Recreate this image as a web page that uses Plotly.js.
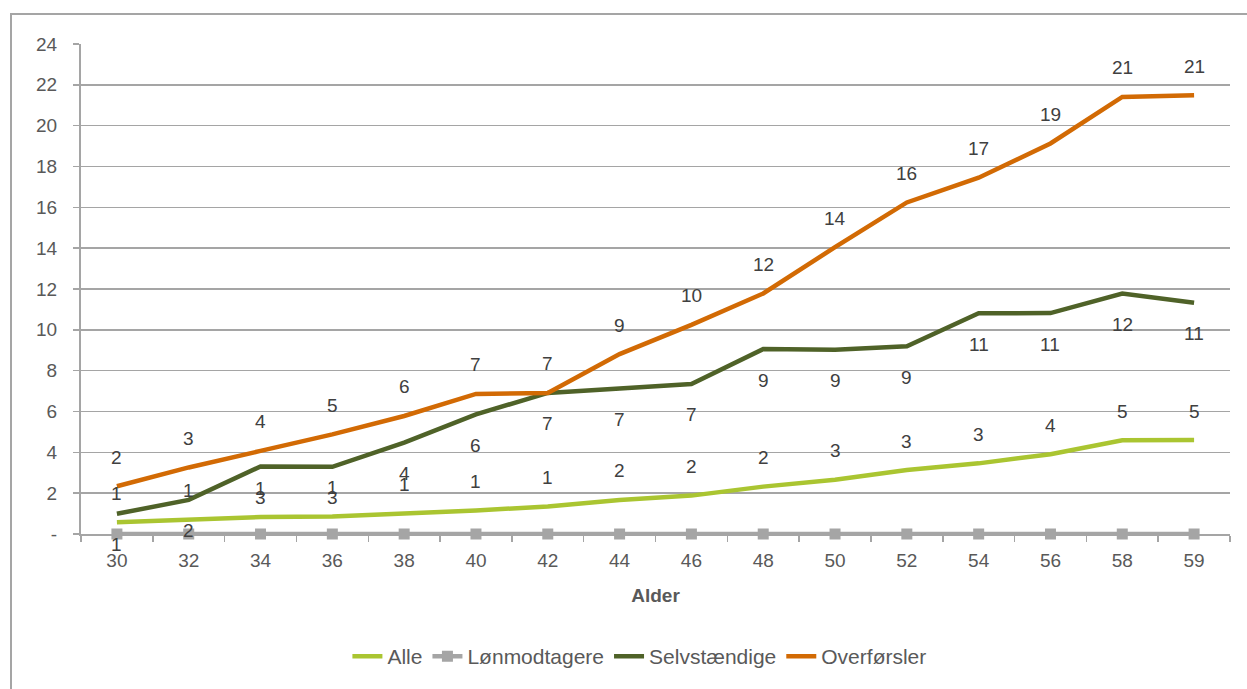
<!DOCTYPE html>
<html>
<head>
<meta charset="utf-8">
<script src="https://cdn.plot.ly/plotly-3.0.1.min.js"></script>
<style>
  html, body { margin: 0; padding: 0; background: #ffffff; }
  #wrap { position: relative; width: 1247px; height: 689px; overflow: hidden; }
  #chart { position: absolute; left: 0; top: 0; width: 1247px; height: 689px; }
  #frame { position: absolute; left: 10px; top: 13px; width: 1300px; height: 800px;
           border: 2px solid #a5a5a5; pointer-events: none; box-sizing: border-box; }
</style>
</head>
<body>
<div id="wrap">
  <div id="chart"></div>
  <div id="frame"></div>
</div>
<script>
// Categories (age)
const ages = ["30","32","34","36","38","40","42","44","46","48","50","52","54","56","58","59"];

// Series values
const alle          = [0.58, 0.70, 0.83, 0.86, 0.99, 1.15, 1.35, 1.67, 1.88, 2.32, 2.66, 3.13, 3.46, 3.91, 4.59, 4.60];
const loenmodtagere = [0, 0, 0, 0, 0, 0, 0, 0, 0, 0, 0, 0, 0, 0, 0, 0];
const selvstaendige = [0.99, 1.67, 3.31, 3.29, 4.48, 5.86, 6.91, 7.11, 7.35, 9.06, 9.02, 9.19, 10.81, 10.82, 11.78, 11.33];
const overfoersler  = [2.34, 3.26, 4.07, 4.88, 5.78, 6.86, 6.91, 8.81, 10.24, 11.78, 14.05, 16.24, 17.45, 19.13, 21.41, 21.49];

// Y axis ticks
const yTickVals   = [0, 2, 4, 6, 8, 10, 12, 14, 16, 18, 20, 22, 24];
const yTickLabels = ["-", "2", "4", "6", "8", "10", "12", "14", "16", "18", "20", "22", "24"];

const FONT = "Liberation Sans, Arial, sans-serif";
const C_ALLE = "#aac531";
const C_LOEN = "#a5a5a5";
const C_SELV = "#4f6228";
const C_OVER = "#d26a04";

const traces = [
  { name: "Alle", x: ages, y: alle, type: "scatter", mode: "lines",
    line: { color: C_ALLE, width: 4.5 } },
  { name: "Lønmodtagere", x: ages, y: loenmodtagere, type: "scatter", mode: "lines+markers",
    line: { color: C_LOEN, width: 4.5 }, marker: { symbol: "square", size: 11, color: C_LOEN },
    cliponaxis: false },
  { name: "Selvstændige", x: ages, y: selvstaendige, type: "scatter", mode: "lines",
    line: { color: C_SELV, width: 4.5 } },
  { name: "Overførsler", x: ages, y: overfoersler, type: "scatter", mode: "lines",
    line: { color: C_OVER, width: 4.5 } }
];

// data labels: x given as category index so the category axis places them
function labels(vals, shift) {
  return vals.map((v, i) => ({
    x: i, y: v, xref: "x", yref: "y",
    text: String(Math.round(v)), showarrow: false, yshift: shift,
    font: { family: FONT, size: 19, color: "#404040" }
  }));
}

const annotations = []
  .concat(labels(alle, 29))
  .concat(labels(selvstaendige, -31))
  .concat(labels(overfoersler, 29));

const layout = {
  width: 1247, height: 689,
  margin: { l: 81, r: 17, t: 44, b: 152 },
  paper_bgcolor: "#ffffff", plot_bgcolor: "#ffffff",
  font: { family: FONT, size: 19, color: "#595959" },
  showlegend: true,
  legend: {
    orientation: "h", x: 0.486, xanchor: "center", y: -0.25, yanchor: "middle",
    font: { family: FONT, size: 21, color: "#595959" },
    traceorder: "normal", itemwidth: 30
  },
  xaxis: {
    type: "category", categoryorder: "array", categoryarray: ages,
    range: [-0.5, ages.length - 0.5], autorange: false,
    showgrid: false, zeroline: false, tickangle: 0,
    showline: true, linecolor: "#a5a5a5", linewidth: 2,
    ticks: "outside", tickson: "boundaries", ticklen: 6, tickcolor: "#a5a5a5", tickwidth: 1.5,
    ticklabelstandoff: 8,
    tickfont: { family: FONT, size: 19, color: "#595959" },
    title: { text: "<b>Alder</b>", font: { family: FONT, size: 19, color: "#595959" }, standoff: 19 }
  },
  yaxis: {
    range: [0, 24], autorange: false, tickvals: yTickVals, ticktext: yTickLabels,
    showgrid: true, gridcolor: "#a5a5a5", gridwidth: 1.5,
    zeroline: false, showline: true, linecolor: "#a5a5a5", linewidth: 2,
    ticks: "outside", ticklen: 6, tickcolor: "#a5a5a5", tickwidth: 1.5,
    tickfont: { family: FONT, size: 19, color: "#595959" },
    ticklabelstandoff: 12
  },
  annotations: annotations
};

Plotly.newPlot("chart", traces, layout, { displayModeBar: false, staticPlot: true });
</script>
</body>
</html>
